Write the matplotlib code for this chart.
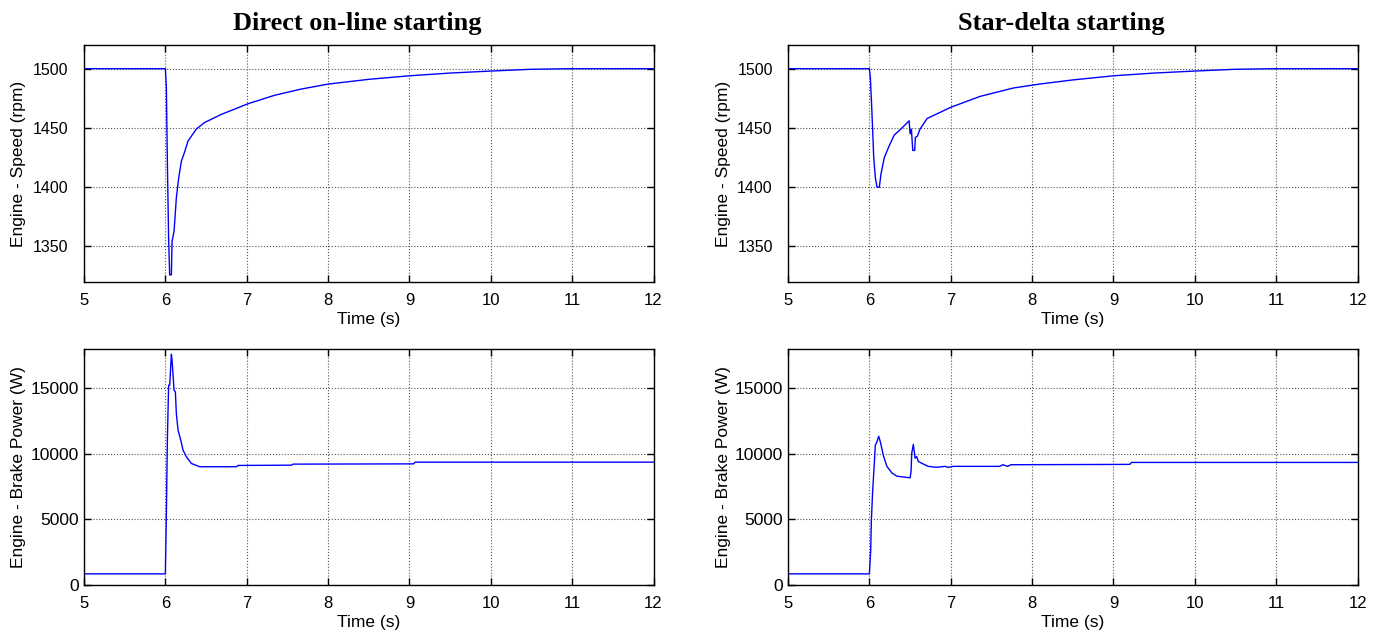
import numpy as np
import matplotlib.pyplot as plt

# Direct on-line starting - speed (rpm)
t_dol_speed = [5.0, 6.0, 6.012, 6.025, 6.04, 6.053, 6.074, 6.082, 6.107, 6.135, 6.164,
               6.197, 6.238, 6.279, 6.38, 6.48, 6.69, 7.02, 7.34, 7.67, 8.0, 8.5,
               9.0, 9.5, 10.0, 10.5, 11.0, 12.0]
dol_speed = [1500, 1500, 1485, 1419, 1357, 1326, 1326, 1354, 1363, 1391, 1408,
             1422, 1430, 1439, 1449, 1454.5, 1461.5, 1470.5, 1477.5, 1482.8, 1487, 1491,
             1494, 1496.3, 1498, 1499.5, 1500, 1500]

# Direct on-line starting - brake power (W)
t_dol_power = [5.0, 6.0, 6.012, 6.025, 6.04, 6.053, 6.074, 6.082, 6.107, 6.123, 6.135,
               6.156, 6.189, 6.217, 6.258, 6.32, 6.422, 6.873, 6.893, 7.549, 7.57,
               9.05, 9.07, 12.0]
dol_power = [850, 850, 5300, 11180, 15240, 15240, 17600, 17150, 14860, 14730, 13080,
             11810, 11050, 10290, 9780, 9270, 9020, 9020, 9120, 9140, 9220,
             9240, 9370, 9370]

# Star-delta starting - speed (rpm)
t_sd_speed = [5.0, 6.0, 6.012, 6.028, 6.04, 6.053, 6.073, 6.093, 6.122, 6.142, 6.183,
              6.244, 6.305, 6.386, 6.488, 6.5, 6.516, 6.533, 6.557, 6.565, 6.59,
              6.622, 6.71, 7.0, 7.36, 7.77, 8.09, 8.5, 9.0, 9.5, 10.0, 10.5, 11.0, 12.0]
sd_speed = [1500, 1500, 1492, 1468, 1448, 1425, 1408, 1400, 1400, 1411, 1425,
            1435, 1444, 1449, 1456, 1445, 1449, 1431, 1431, 1442, 1443,
            1449, 1458, 1467.4, 1476.6, 1483.7, 1487, 1490.5, 1494, 1496.3, 1498, 1499.5, 1500, 1500]

# Star-delta starting - brake power (W)
t_sd_power = [5.0, 6.0, 6.016, 6.024, 6.04, 6.057, 6.073, 6.093, 6.114, 6.134, 6.175,
              6.215, 6.276, 6.337, 6.5, 6.512, 6.52, 6.54, 6.561, 6.581, 6.6,
              6.663, 6.724, 6.825, 6.93, 6.967, 7.03, 7.6, 7.64, 7.7, 7.74,
              9.2, 9.22, 12.0]
sd_power = [850, 850, 2675, 4925, 7175, 8925, 10675, 10925, 11350, 10925, 9800,
            9050, 8550, 8300, 8175, 8675, 10050, 10725, 9675, 9800, 9425,
            9225, 9050, 8975, 9050, 8975, 9050, 9050, 9175, 9050, 9175,
            9200, 9350, 9350]

titles = ['Direct on-line starting', 'Star-delta starting']
x_ticks = [5, 6, 7, 8, 9, 10, 11, 12]
speed_ticks = [1350, 1400, 1450, 1500]
power_ticks = [0, 5000, 10000, 15000]

plt.rcParams['font.family'] = ['Liberation Sans', 'DejaVu Sans']

fig = plt.figure(figsize=(13.84, 6.37), dpi=100)

lefts = [0.0607, 0.5694]
width = 0.4115
top_y, top_h = 0.5573, 0.3721
bot_y, bot_h = 0.0816, 0.3705

panels = [
    (t_dol_speed, dol_speed, t_dol_power, dol_power),
    (t_sd_speed, sd_speed, t_sd_power, sd_power),
]


def style(ax, ylab, ysize, ypad):
    ax.set_xlim(5, 12)
    ax.set_xticks(x_ticks)
    ax.grid(True, color='#555555', linestyle=':', linewidth=0.8)
    ax.tick_params(direction='in', top=True, right=True, length=5, width=1)
    ax.tick_params(axis='x', pad=8, labelsize=12)
    ax.tick_params(axis='y', pad=ypad, labelsize=ysize)
    for s in ax.spines.values():
        s.set_linewidth(1)
    ax.set_xlabel('Time (s)', fontsize=12.5, labelpad=3)
    ax.set_ylabel(ylab, fontsize=12.5)
    ax.yaxis.set_label_coords(-0.101, 0.5)


for i, (ts, vs, tp, vp) in enumerate(panels):
    ax1 = fig.add_axes([lefts[i], top_y, width, top_h])
    ax1.plot(ts, vs, color='blue', linewidth=1)
    ax1.set_ylim(1320, 1520)
    ax1.set_yticks(speed_ticks)
    ax1.set_title(titles[i], fontsize=19, fontweight='bold',
                  family='Liberation Serif', pad=11, x=0.479)
    style(ax1, 'Engine - Speed (rpm)', 11.5, 11)

    ax2 = fig.add_axes([lefts[i], bot_y, width, bot_h])
    ax2.plot(tp, vp, color='blue', linewidth=1)
    ax2.set_ylim(0, 18000)
    ax2.set_yticks(power_ticks)
    style(ax2, 'Engine - Brake Power (W)', 12.5, 3.5)

fig.savefig('out.png', dpi=100)
